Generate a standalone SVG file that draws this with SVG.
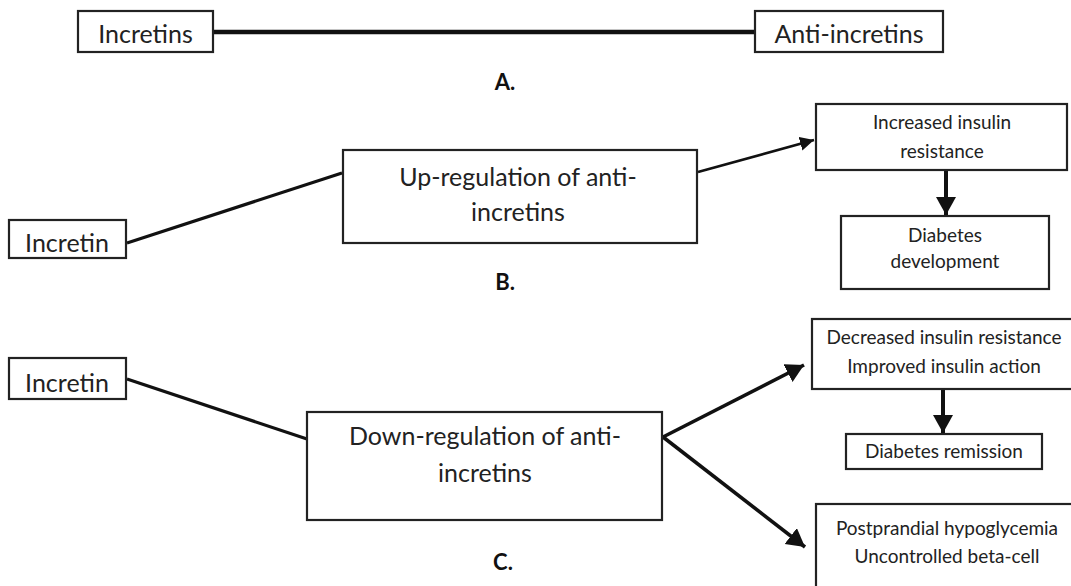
<svg xmlns="http://www.w3.org/2000/svg" width="1071" height="586" viewBox="0 0 1071 586">
<style>
.box{fill:#fff;stroke:#222;stroke-width:2.2}
.t{font-family:Lato,"Open Sans","Liberation Sans",sans-serif;fill:#222;text-anchor:middle}
.big{font-size:25px}
.sm{font-size:19px}
.lbl{font-family:Lato,"Liberation Sans",sans-serif;font-weight:bold;font-size:22px;fill:#111;text-anchor:middle}
.ln{stroke:#111;fill:none}
</style>
<defs>
<marker id="ahS" markerUnits="userSpaceOnUse" markerWidth="16" markerHeight="16" refX="14" refY="7" orient="auto"><path d="M0,0 L14,7 L0,14 z" fill="#111"/></marker>
<marker id="ahL" markerUnits="userSpaceOnUse" markerWidth="22" markerHeight="22" refX="18" refY="10" orient="auto"><path d="M0,0 L18,10 L0,20 z" fill="#111"/></marker>
</defs>
<rect width="1071" height="586" fill="#fff"/>
<g id="connectors">
<line class="ln" x1="213" y1="32" x2="755" y2="32" stroke-width="4.5"/>
<line class="ln" x1="127" y1="243" x2="342" y2="173" stroke-width="3.2"/>
<line class="ln" x1="698" y1="172" x2="814" y2="140" stroke-width="2.6" marker-end="url(#ahS)"/>
<line class="ln" x1="946" y1="171" x2="946" y2="215" stroke-width="4" marker-end="url(#ahL)"/>
<line class="ln" x1="127" y1="379" x2="307" y2="439" stroke-width="3.2"/>
<line class="ln" x1="663" y1="437" x2="804" y2="365" stroke-width="3.6" marker-end="url(#ahL)"/>
<line class="ln" x1="663" y1="437" x2="805" y2="547" stroke-width="3.6" marker-end="url(#ahL)"/>
<line class="ln" x1="943" y1="390" x2="943" y2="433" stroke-width="4" marker-end="url(#ahL)"/>
</g>
<g id="incretins-a"><rect class="box" x="78" y="11" width="135" height="41"/><text class="t big" x="145.5" y="43">Incretins</text></g>
<g id="anti-incretins-a"><rect class="box" x="755" y="11" width="188" height="41"/><text class="t big" x="849" y="43">Anti-incretins</text></g>
<text class="lbl" x="505" y="90">A.</text>
<g id="incretin-b"><rect class="box" x="9" y="220" width="117" height="38"/><text class="t big" x="67" y="252">Incretin</text></g>
<g id="upregulation"><rect class="box" x="343" y="150" width="354" height="93"/><text class="t big" x="518" y="186">Up-regulation of anti-</text><text class="t big" x="518" y="221">incretins</text></g>
<g id="increased-ir"><rect class="box" x="816" y="104" width="251" height="66"/><text class="t sm" x="942" y="129">Increased insulin</text><text class="t sm" x="942" y="158">resistance</text></g>
<g id="diabetes-dev"><rect class="box" x="841" y="216" width="208" height="73"/><text class="t sm" x="945" y="242">Diabetes</text><text class="t sm" x="945" y="268">development</text></g>
<text class="lbl" x="505" y="290">B.</text>
<g id="incretin-c"><rect class="box" x="9" y="358" width="117" height="41"/><text class="t big" x="67" y="392">Incretin</text></g>
<g id="downregulation"><rect class="box" x="307" y="412" width="355" height="108"/><text class="t big" x="485" y="445">Down-regulation of anti-</text><text class="t big" x="485" y="482">incretins</text></g>
<g id="decreased-ir"><rect class="box" x="812" y="319" width="270" height="70"/><text class="t sm" x="944" y="344">Decreased insulin resistance</text><text class="t sm" x="944" y="373">Improved insulin action</text></g>
<g id="remission"><rect class="box" x="846" y="434" width="196" height="35"/><text class="t sm" x="944" y="458">Diabetes remission</text></g>
<g id="hypoglycemia"><rect class="box" x="816" y="504" width="270" height="100"/><text class="t sm" x="947" y="535">Postprandial hypoglycemia</text><text class="t sm" x="947" y="563">Uncontrolled beta-cell</text></g>
<text class="lbl" x="503" y="570">C.</text>
</svg>
